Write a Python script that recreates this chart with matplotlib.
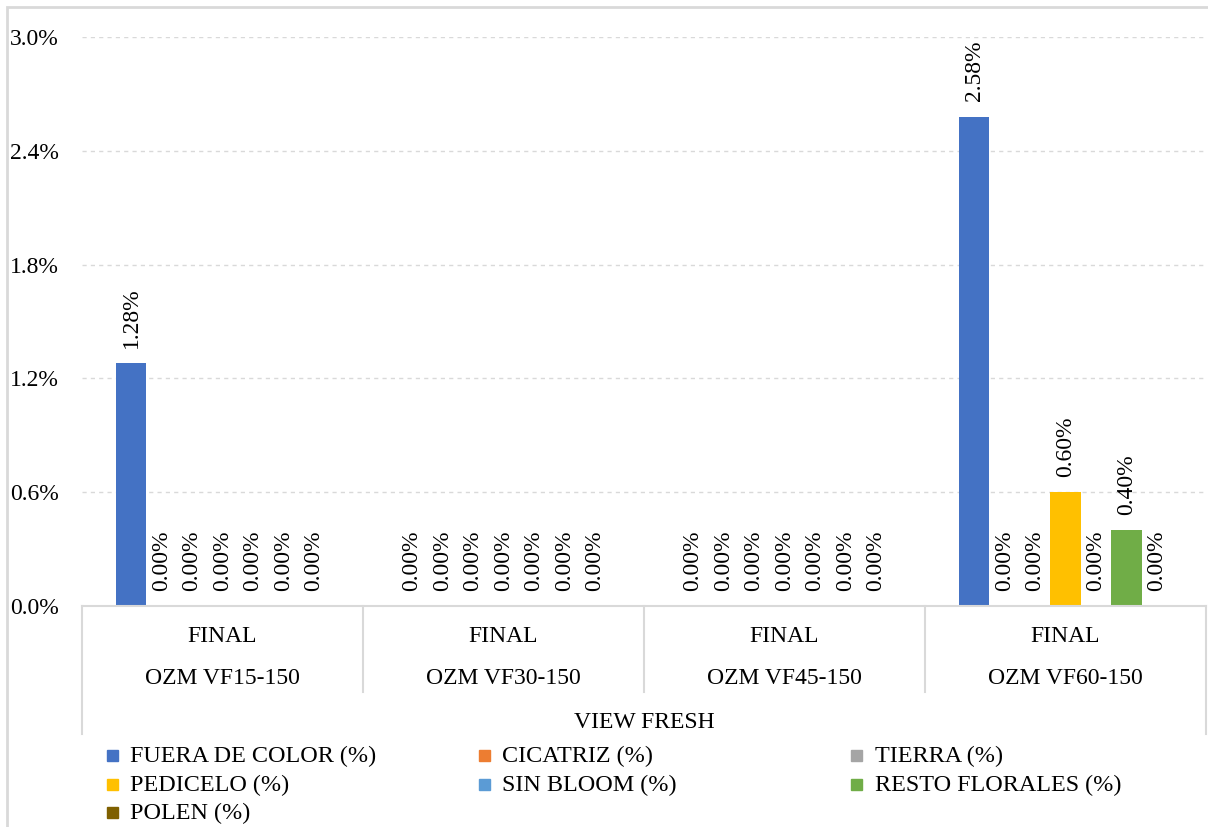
import matplotlib.pyplot as plt
from matplotlib.patches import Rectangle
from matplotlib.ticker import FuncFormatter

plt.rcParams['font.family'] = ['Liberation Serif', 'DejaVu Serif']

# datos por tratamiento
grupos = ['OZM VF15-150', 'OZM VF30-150', 'OZM VF45-150', 'OZM VF60-150']
etapa = 'FINAL'
empresa = 'VIEW FRESH'

series = ['FUERA DE COLOR (%)', 'CICATRIZ (%)', 'TIERRA (%)', 'PEDICELO (%)',
          'SIN BLOOM (%)', 'RESTO FLORALES (%)', 'POLEN (%)']
fuera_color = [1.28, 0.00, 0.00, 2.58]
cicatriz = [0.00, 0.00, 0.00, 0.00]
tierra = [0.00, 0.00, 0.00, 0.00]
pedicelo = [0.00, 0.00, 0.00, 0.60]
sin_bloom = [0.00, 0.00, 0.00, 0.00]
resto_florales = [0.00, 0.00, 0.00, 0.40]
polen = [0.00, 0.00, 0.00, 0.00]
valores = [fuera_color, cicatriz, tierra, pedicelo, sin_bloom, resto_florales, polen]

colores = ['#4472C4', '#ED7D31', '#A5A5A5', '#FFC000', '#5B9BD5', '#70AD47', '#7F6000']
gris = '#d9d9d9'
fs = 17

W, H = 1208, 827
fig = plt.figure(figsize=(W / 100, H / 100), dpi=100)
ax = fig.add_axes([82 / W, 1 - 606 / H, (1206 - 82) / W, (606 - 37) / H])

# barras agrupadas
ancho = 0.1085
margen = (1 - ancho * len(series)) / 2
for i, (nombre, vals) in enumerate(zip(series, valores)):
    xs = [g + margen + (i + 0.5) * ancho for g in range(len(grupos))]
    ax.bar(xs, vals, width=ancho, color=colores[i], label=nombre, zorder=3)
    for x, v in zip(xs, vals):
        ax.annotate(f'{v:.2f}%', (x, v), xytext=(0, 11), textcoords='offset points',
                    rotation=90, ha='center', va='bottom', fontsize=fs,
                    annotation_clip=False)

ax.set_xlim(0, len(grupos))
ax.set_ylim(0, 3.0)
ax.set_yticks([0, 0.6, 1.2, 1.8, 2.4, 3.0])
ax.yaxis.set_major_formatter(FuncFormatter(lambda v, p: f'{v:.1f}%'))
ax.tick_params(axis='y', length=0, pad=17, labelsize=fs)
ax.set_xticks([])
for s in ax.spines.values():
    s.set_visible(False)
for t in [0.6, 1.2, 1.8, 2.4, 3.0]:
    ax.axhline(t, color=gris, lw=1, dashes=(3, 3), zorder=1)

# eje de categorias de varios niveles
tr = ax.get_xaxis_transform()
h_px = 606 - 37
def ypos(py):
    return (606 - py) / h_px

ax.plot([0, len(grupos)], [0, 0], color=gris, lw=1.5, transform=tr, clip_on=False, zorder=4)
ax.plot([0, 0], [0, ypos(734)], color=gris, lw=1.5, transform=tr, clip_on=False)
ax.plot([len(grupos), len(grupos)], [0, ypos(734)], color=gris, lw=1.5, transform=tr, clip_on=False)
for g in range(1, len(grupos)):
    ax.plot([g, g], [0, ypos(692)], color=gris, lw=1.5, transform=tr, clip_on=False)
for g, nombre in enumerate(grupos):
    ax.text(g + 0.5, ypos(636), etapa, transform=tr, ha='center', va='center', fontsize=fs)
    ax.text(g + 0.5, ypos(679), nombre, transform=tr, ha='center', va='center', fontsize=fs)
ax.text(len(grupos) / 2, ypos(722), empresa, transform=tr, ha='center', va='center', fontsize=fs)

# leyenda en tres columnas
col_x = [112, 484, 857]
fila_y = [755, 784, 812]
for i, nombre in enumerate(series):
    c, f = i % 3, i // 3
    fig.patches.append(Rectangle(((col_x[c] - 5.5) / W, 1 - (fila_y[f] + 5.5) / H), 11 / W, 11 / H,
                                 transform=fig.transFigure, color=colores[i]))
    fig.text((col_x[c] + 18) / W, 1 - (fila_y[f] + 1) / H, nombre, ha='left', va='center',
             fontsize=17.4)

# marco del grafico
fig.patches.append(Rectangle((7 / W, -0.05), 1.1, 1.05 - 7 / H, transform=fig.transFigure,
                             fill=False, edgecolor=gris, lw=2))

fig.savefig('out.png', dpi=100)
